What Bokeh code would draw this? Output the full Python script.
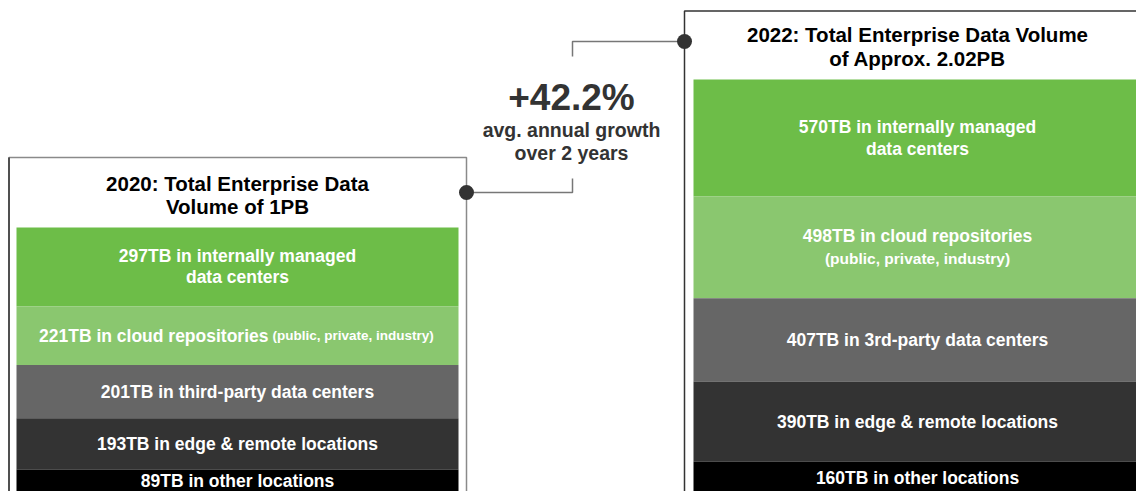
from bokeh.plotting import figure
from bokeh.models import Range1d, ColumnDataSource
from bokeh.core.properties import value
from bokeh.embed import file_html
from bokeh.resources import INLINE

# ---------------- data ----------------
locations = ["internally managed data centers", "cloud repositories",
             "third-party data centers", "edge & remote locations", "other locations"]
values_2020 = [297, 221, 201, 193, 89]
values_2022 = [570, 498, 407, 390, 160]
labels_2020 = [["297TB in internally managed", "data centers"],
               ["221TB in cloud repositories"],
               ["201TB in third-party data centers"],
               ["193TB in edge & remote locations"],
               ["89TB in other locations"]]
note_2020_cloud = "(public, private, industry)"
labels_2022 = [["570TB in internally managed", "data centers"],
               ["498TB in cloud repositories", "(public, private, industry)"],
               ["407TB in 3rd-party data centers"],
               ["390TB in edge & remote locations"],
               ["160TB in other locations"]]
title_2020 = ["2020: Total Enterprise Data", "Volume of 1PB"]
title_2022 = ["2022: Total Enterprise Data Volume", "of Approx. 2.02PB"]
growth = "+42.2%"
growth_sub = ["avg. annual growth", "over 2 years"]
colors = ["#6dbd48", "#8ac76f", "#666666", "#333333", "#000000"]

FONT = "Liberation Sans"
W, H = 1136, 491
p = figure(width=W, height=H, output_backend="svg", toolbar_location=None,
           x_range=Range1d(0, W), y_range=Range1d(H, 0),
           min_border=0, outline_line_color=None)
p.axis.visible = False
p.grid.visible = False
p.background_fill_color = "white"
p.border_fill_color = "white"

# per-panel value scales (TB stacked downward from the panel's top)
def stack_range(top_px, px_per_tb):
    return Range1d(start=(H - top_px) / px_per_tb, end=(0 - top_px) / px_per_tb)

p.extra_y_ranges = {"r2020": stack_range(227, 0.2654), "r2022": stack_range(79, 0.2048)}

def stacks(vals):
    tops, bots, c = [], [], 0
    for v in vals:
        tops.append(c)
        c += v
        bots.append(c)
    return tops, bots

def panel(vals, labels, rname, xc, bw, lh, small_size):
    tops, bots = stacks(vals)
    src = ColumnDataSource(dict(x=[xc] * len(vals), top=tops, bottom=bots, color=colors))
    p.vbar(x="x", width=bw, top="top", bottom="bottom", fill_color="color",
           line_color=None, source=src, y_range_name=rname)
    tx, ty, tt, ts, toff = [], [], [], [], []
    for i, lab in enumerate(labels):
        if lab is None:
            continue
        mid = (tops[i] + bots[i]) / 2
        n = len(lab)
        for j, line in enumerate(lab):
            small = line.startswith("(")
            tx.append(xc)
            ty.append(mid)
            tt.append(line)
            ts.append(small_size if small else "17.5px")
            toff.append((j - (n - 1) / 2) * lh)
    s2 = ColumnDataSource(dict(x=tx, y=ty, t=tt, s=ts, o=toff))
    p.text(x="x", y="y", text="t", text_font_size="s", y_offset="o", source=s2,
           y_range_name=rname, text_align="center", text_baseline="middle",
           text_color="white", text_font_style="bold", text_font=value(FONT))
    return tops, bots

# boxes
p.line([8.5, 8.5, 466, 466], [500, 157, 157, 500], line_color="#8a8a8a", line_width=1.5)
p.line([8.5, 8.5], [500, 157], line_color="#333333", line_width=1.5)
p.line([684, 684, 1150], [500, 10.5, 10.5], line_color="#333333", line_width=1.5)

labs20 = [l if i != 1 else None for i, l in enumerate(labels_2020)]
t20, b20 = panel(values_2020, labs20, "r2020", 237, 442, 21, "14px")
# 2020 cloud line: main text + smaller inline note
cmid = (t20[1] + b20[1]) / 2
p.text(x=[268], y=[cmid], text=labels_2020[1], y_range_name="r2020",
       text_align="right", text_baseline="middle", text_color="white",
       text_font_style="bold", text_font_size="17.5px", text_font=value(FONT))
p.text(x=[272], y=[cmid], text=[note_2020_cloud], y_range_name="r2020",
       text_align="left", text_baseline="middle", text_color="white",
       text_font_style="bold", text_font_size="13.5px", text_font=value(FONT))

panel(values_2022, labels_2022, "r2022", 917, 448, 22, "15.5px")

# titles
p.text(x=[237, 237], y=[183, 206], text=title_2020, text_align="center",
       text_baseline="middle", text_color="#000000", text_font_style="bold",
       text_font_size="20.5px", text_font=value(FONT))
p.text(x=[917, 917], y=[34, 58], text=title_2022, text_align="center",
       text_baseline="middle", text_color="#000000", text_font_style="bold",
       text_font_size="20.5px", text_font=value(FONT))

# connectors
p.line([466, 572, 572], [192, 192, 178], line_color="#777777", line_width=1.5)
p.line([572, 572, 684], [56, 41, 41], line_color="#777777", line_width=1.5)
p.scatter(x=[466, 684], y=[192, 41], size=15, fill_color="#333333", line_color=None)

# growth annotation
p.text(x=[571], y=[97], text=[growth], text_align="center", text_baseline="middle",
       text_color="#333333", text_font_style="bold", text_font_size="37px",
       text_font=value(FONT))
p.text(x=[571, 571], y=[129, 152], text=growth_sub, text_align="center",
       text_baseline="middle", text_color="#333333", text_font_style="bold",
       text_font_size="19.5px", text_font=value(FONT))

open("out.html", "w").write(file_html(p, INLINE))
